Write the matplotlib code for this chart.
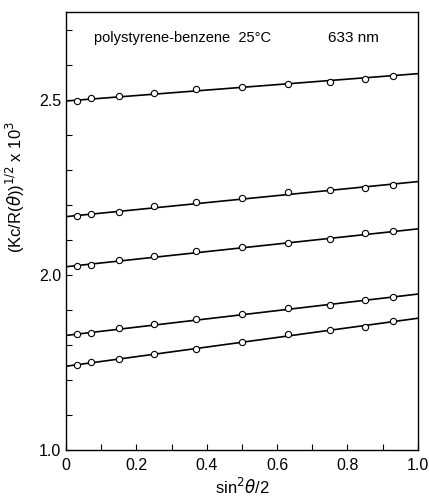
import numpy as np
import matplotlib.pyplot as plt

plt.rcParams['font.family'] = ['Liberation Sans', 'DejaVu Sans']

# sin^2(theta/2) of the measuring angles
x = [0.03, 0.07, 0.15, 0.25, 0.37, 0.50, 0.63, 0.75, 0.85, 0.93]

# (Kc/R)^1/2 x 10^3, one list per concentration
s1 = [2.497, 2.504, 2.509, 2.518, 2.529, 2.535, 2.544, 2.550, 2.559, 2.567]
s2 = [2.169, 2.173, 2.179, 2.196, 2.208, 2.219, 2.235, 2.241, 2.248, 2.255]
s3 = [2.026, 2.029, 2.042, 2.053, 2.067, 2.078, 2.091, 2.103, 2.120, 2.125]
s4 = [1.831, 1.833, 1.848, 1.859, 1.873, 1.889, 1.905, 1.915, 1.927, 1.938]
s5 = [1.743, 1.751, 1.759, 1.773, 1.789, 1.809, 1.831, 1.842, 1.851, 1.867]

# fitted lines, value at x=0 and at x=1
line_y0 = [2.496, 2.166, 2.023, 1.827, 1.739]
line_y1 = [2.574, 2.266, 2.131, 1.945, 1.876]

ytick_vals = [1.5, 2.0, 2.5]
ytick_labels = ['1.0', '2.0', '2.5']  # as printed on the original
xtick_vals = [0, 0.2, 0.4, 0.6, 0.8, 1.0]
xtick_labels = ['0', '0.2', '0.4', '0.6', '0.8', '1.0']

fig = plt.figure(figsize=(4.29, 5.0), dpi=100)
ax = fig.add_axes([0.154, 0.1, 0.82, 0.876])

for s, a, b in zip([s1, s2, s3, s4, s5], line_y0, line_y1):
    ax.plot([0, 1], [a, b], color='k', lw=1.2, zorder=2)
    ax.plot(x, s, 'o', mfc='white', mec='k', mew=0.8, ms=4.5, zorder=3)

ax.set_xlim(0, 1.0)
ax.set_ylim(1.5, 2.75)
ax.set_xticks(xtick_vals)
ax.set_xticklabels(xtick_labels)
ax.set_xticks(np.arange(0, 1.01, 0.1), minor=True)
ax.set_yticks(ytick_vals)
ax.set_yticklabels(ytick_labels)
ax.set_yticks(np.arange(1.5, 2.71, 0.1), minor=True)
ax.tick_params(which='both', direction='in', length=4, width=0.8, labelsize=11.5)
ax.tick_params(axis='x', pad=6)
for sp in ax.spines.values():
    sp.set_linewidth(1.0)

ax.set_xlabel(r'sin$^2\theta$/2', fontsize=12)
ax.xaxis.set_label_coords(0.5, -0.062)
ax.set_ylabel(r'(Kc/R($\theta$))$^{1/2}$ x 10$^3$', fontsize=12)
ax.yaxis.set_label_coords(-0.11, 0.6)

ax.text(0.08, 0.94, 'polystyrene-benzene  25°C', transform=ax.transAxes,
        fontsize=10.5, va='center')
ax.text(0.745, 0.94, '633 nm', transform=ax.transAxes, fontsize=11, va='center')

plt.savefig('out.png', dpi=100)
